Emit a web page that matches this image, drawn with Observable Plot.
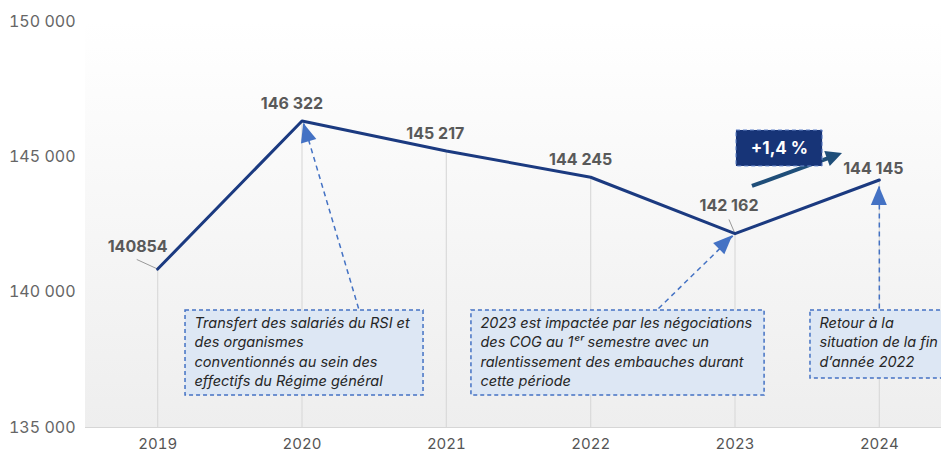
<!DOCTYPE html>
<html><head><meta charset="utf-8">
<script src="https://cdn.jsdelivr.net/npm/d3@7"></script>
<script src="https://cdn.jsdelivr.net/npm/@observablehq/plot@0.6"></script>
<style>
body{margin:0;background:#fff;}
#chart{width:941px;height:455px;overflow:hidden;}
</style>
</head><body><div id="chart"></div>
<script>
// ---- data ----
const years = [2019, 2020, 2021, 2022, 2023, 2024];
const effectifs = [140854, 146322, 145217, 144245, 142162, 144145];
const valueLabels = ["140854", "146 322", "145 217", "144 245", "142 162", "144 145"];
const yTicks = [135000, 140000, 145000, 150000];
const yTickLabels = ["135 000", "140 000", "145 000", "150 000"];
const noteTexts = [
  "Transfert des salariés du RSI et\ndes organismes\nconventionnés au sein des\neffectifs du Régime général",
  "2023 est impactée par les négociations\ndes COG au 1ᵉʳ semestre avec un\nralentissement des embauches durant\ncette période",
  "Retour à la\nsituation de la fin\nd’année 2022"
];
const badgeText = "+1,4 %";

// ---- layout (data units) ----
const noteBoxes = [
  {x1: 2019.193, x2: 2020.842, y1: 136182, y2: 139323},
  {x1: 2021.174, x2: 2023.205, y1: 136182, y2: 139323},
  {x1: 2023.523, x2: 2024.60, y1: 136811, y2: 139323}
];
const noteArrows = [
  {x1: 2020.392, y1: 139397, x2: 2020.012, y2: 146230},
  {x1: 2022.470, y1: 139397, x2: 2022.985, y2: 142080},
  {x1: 2024.000, y1: 139397, x2: 2024.000, y2: 143905}
];
const badgeBox = {x1: 2023.01, x2: 2023.607, y1: 144644, y2: 145974, tx: 2023.308, ty: 145309};
const badgeArrow = [{x1: 2023.121, y1: 143905, x2: 2023.745, y2: 145124}];
const leaders = [
  {x1: 2018.855, y1: 141208, x2: 2019, y2: 140854},
  {x1: 2022.958, y1: 142686, x2: 2023, y2: 142162}
];
const labelDx = [-20, -10, -11, -10, -6, -6];
const labelDy = [-22, -17, -17, -17, -28, -11];

const pts = years.map((year, i) => ({year, value: effectifs[i], label: valueLabels[i]}));
const FONT = "Inter, 'Open Sans', sans-serif";

function background(index, scales, values, dim) {
  const g = d3.create("svg:g");
  const id = "bggrad";
  const grad = g.append("defs").append("linearGradient").attr("id", id)
    .attr("x1", 0).attr("y1", 0).attr("x2", 0).attr("y2", 1);
  grad.append("stop").attr("offset", "0%").attr("stop-color", "#ffffff");
  grad.append("stop").attr("offset", "100%").attr("stop-color", "#eeeeee");
  g.append("rect")
    .attr("x", dim.marginLeft).attr("y", dim.marginTop)
    .attr("width", 2000).attr("height", dim.height - dim.marginTop - dim.marginBottom)
    .attr("fill", `url(#${id})`);
  return g.node();
}

// arrow: optional solid line ending at the head base, plus filled triangular head
function arrows(list, {fill, L, W, line = 0}) {
  return (index, scales) => {
    const g = d3.create("svg:g");
    for (const a of list) {
      const x1 = scales.x(a.x1), y1 = scales.y(a.y1), x2 = scales.x(a.x2), y2 = scales.y(a.y2);
      const ang = Math.atan2(y2 - y1, x2 - x1);
      const bx = x2 - L * Math.cos(ang), by = y2 - L * Math.sin(ang);
      const px = -Math.sin(ang) * W, py = Math.cos(ang) * W;
      if (line) {
        g.append("line").attr("x1", x1).attr("y1", y1)
          .attr("x2", x2 - (L - 2) * Math.cos(ang)).attr("y2", y2 - (L - 2) * Math.sin(ang))
          .attr("stroke", fill).attr("stroke-width", line);
      }
      g.append("path")
        .attr("d", `M${x2},${y2}L${bx + px},${by + py}L${bx - px},${by - py}Z`)
        .attr("fill", fill);
    }
    return g.node();
  };
}

const chart = Plot.plot({
  width: 941,
  height: 455,
  marginLeft: 85,
  marginTop: 21,
  marginBottom: 28,
  marginRight: 0,
  style: {fontFamily: FONT, background: "transparent"},
  x: {type: "linear", domain: [2018.5, 2024.5], range: [85, 951]},
  y: {domain: [135000, 150000], range: [427, 21]},
  marks: [
    background,
    Plot.ruleX(pts, {x: "year", y1: 135000, y2: "value", stroke: "#dadada", strokeWidth: 1.2}),
    Plot.ruleY([135000], {stroke: "#d6d6d6", strokeWidth: 1.2}),
    Plot.axisX({ticks: years, tickFormat: d => String(d), tickSize: 0, tickPadding: 11,
      fontSize: 15, fill: "#555", label: null}),
    Plot.axisY({ticks: yTicks, tickFormat: d => yTickLabels[yTicks.indexOf(d)], tickSize: 0,
      tickPadding: 10, fontSize: 16, fill: "#666", label: null}),
    Plot.link(leaders, {x1: "x1", y1: "y1", x2: "x2", y2: "y2", stroke: "#999", strokeWidth: 1}),
    Plot.line(pts, {x: "year", y: "value", stroke: "#1b3a80", strokeWidth: 3}),
    ...pts.map((p, i) => Plot.text([p], {x: "year", y: "value", text: "label",
      dx: labelDx[i], dy: labelDy[i], fontSize: 16, fontWeight: "bold", fill: "#595959"})),
    // annotation arrows
    Plot.link(noteArrows, {x1: "x1", y1: "y1", x2: "x2", y2: "y2", stroke: "#4472c4",
      strokeWidth: 1.5, strokeDasharray: "5,4"}),
    arrows(noteArrows, {fill: "#4472c4", L: 19, W: 8}),
    // annotation boxes
    Plot.rect(noteBoxes, {x1: "x1", x2: "x2", y1: "y1", y2: "y2", fill: "#dde7f4",
      stroke: "#4472c4", strokeWidth: 1.5, strokeDasharray: "4,3", inset: 0}),
    Plot.text(noteBoxes, {x: "x1", y: "y2", text: (d, i) => noteTexts[i], dx: 9, dy: 4,
      textAnchor: "start", lineAnchor: "top", lineHeight: 1.33, fontSize: 14.5,
      fontStyle: "italic", fill: "#262626"}),
    // badge
    arrows(badgeArrow, {fill: "#1f4e79", L: 16, W: 8, line: 4}),
    Plot.rect([badgeBox], {x1: "x1", x2: "x2", y1: "y1", y2: "y2", fill: "#173477",
      stroke: "#6f8fd0", strokeWidth: 1, strokeDasharray: "4,3", inset: 0}),
    Plot.text([badgeBox], {x: "tx", y: "ty", text: () => badgeText, fill: "#fff",
      fontSize: 17, fontWeight: "bold"})
  ]
});
document.getElementById("chart").append(chart);
</script>
</body></html>
